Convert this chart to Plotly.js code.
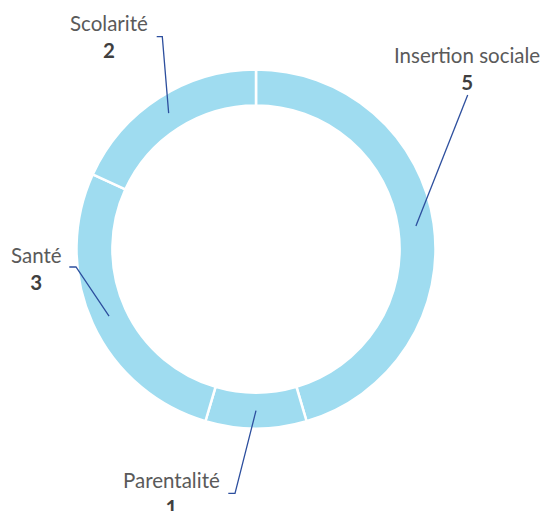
<!DOCTYPE html>
<html>
<head>
<meta charset="utf-8">
<script src="https://cdn.plot.ly/plotly-3.0.1.min.js"></script>
<style>html,body{margin:0;padding:0;background:#fff;}#chart{width:545px;height:511px;}</style>
</head>
<body>
<div id="chart"></div>
<script>
// ---- data ----
const categories = ["Insertion sociale", "Parentalité", "Santé", "Scolarité"];
const values = [5, 1, 3, 2];

// ---- layout constants (pixels) ----
const W = 545, H = 511;
const CX = 256, CY = 249, R = 179.5, HOLE = 0.80;
// label text centre (x) and top of the label block (y)
const labelPos = [
  {x: 467, y: 41},
  {x: 171, y: 466},
  {x: 36, y: 241},
  {x: 109, y: 9}
];
// leader-line starting points (near label)
const leaderStart = [
  [[467.7, 95]],
  [[228.3, 493.3], [235, 493.3]],
  [[69.3, 267], [76, 267]],
  [[156.7, 36.7], [162.3, 36.7]]
];

const px = x => x / W;
const py = y => 1 - y / H;

const total = values.reduce((a, b) => a + b, 0);
let cum = 0;
const shapes = [];
const annotations = [];
const rMid = R * (1 + HOLE) / 2;
values.forEach((v, i) => {
  const midFrac = (cum + v / 2) / total;
  cum += v;
  const ang = midFrac * 2 * Math.PI;
  const ex = CX + rMid * Math.sin(ang);
  const ey = CY - rMid * Math.cos(ang);
  const pts = leaderStart[i].concat([[ex, ey]]);
  const path = pts.map((p, k) => (k === 0 ? 'M ' : ' L ') + px(p[0]) + ' ' + py(p[1])).join('');
  shapes.push({
    type: 'path', xref: 'paper', yref: 'paper', path: path,
    line: {color: '#2d4f9e', width: 1.3}
  });
  annotations.push({
    xref: 'paper', yref: 'paper', x: px(labelPos[i].x), y: py(labelPos[i].y),
    xanchor: 'center', yanchor: 'top', showarrow: false, align: 'center',
    text: categories[i] + '<br><b style="color:#3f3f3f">' + values[i] + '</b>',
    font: {family: 'Lato, sans-serif', size: 20.5, color: '#5a5a5a'}
  });
});

const trace = {
  type: 'pie',
  labels: categories,
  values: values,
  sort: false,
  direction: 'clockwise',
  rotation: 0,
  hole: HOLE,
  textinfo: 'none',
  hoverinfo: 'label+value',
  marker: {colors: categories.map(() => '#9fdcf0'), line: {color: '#ffffff', width: 2.5}},
  domain: {x: [px(CX - R), px(CX + R)], y: [py(CY + R), py(CY - R)]},
  showlegend: false
};

const layout = {
  width: W, height: H,
  margin: {l: 0, r: 0, t: 0, b: 0},
  paper_bgcolor: '#ffffff',
  showlegend: false,
  shapes: shapes,
  annotations: annotations
};

Plotly.newPlot('chart', [trace], layout, {displayModeBar: false, staticPlot: true});
</script>
</body>
</html>
